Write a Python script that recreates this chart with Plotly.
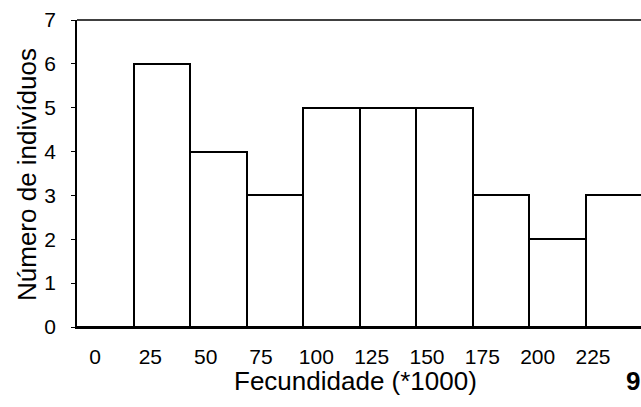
import plotly.graph_objects as go

# Data
bin_labels = [0, 25, 50, 75, 100, 125, 150, 175, 200, 225]
counts = [0, 6, 4, 3, 5, 5, 5, 3, 2, 3]
y_ticks = [0, 1, 2, 3, 4, 5, 6, 7]
x_title = "Fecundidade (*1000)"
y_title = "Número de indivíduos"

FONT = "Liberation Sans, Arial, sans-serif"
W, H = 641, 407
L, R, T, B = 77, 0, 20, 80
pw = W - L - R
ph = H - T - B

fig = go.Figure()
fig.add_trace(go.Bar(
    x=list(range(len(counts))),
    y=counts,
    width=1.0,
    marker=dict(color="white", line=dict(color="black", width=2)),
    showlegend=False,
    hoverinfo="skip",
))
# invisible trace to carry the tick-label axis
fig.add_trace(go.Scatter(x=[bin_labels[0], bin_labels[-1]], y=[0, 0], xaxis="x2",
                         mode="markers", marker=dict(opacity=0), showlegend=False,
                         hoverinfo="skip"))

bar_px = 56.5
fig.update_layout(
    width=W, height=H,
    margin=dict(l=L, r=R, t=T, b=B, pad=0),
    paper_bgcolor="white", plot_bgcolor="white",
    font=dict(family=FONT, size=21, color="black"),
    bargap=0,
    xaxis=dict(range=[-0.5, -0.5 + pw / bar_px], showticklabels=False, ticks="",
               showgrid=False, zeroline=False, showline=True, linecolor="black",
               linewidth=1.5, mirror=False),
    xaxis2=dict(overlaying="x", side="bottom", anchor="y",
                range=[(77 - 95) / 2.2133, (641 - 95) / 2.2133],
                tickvals=bin_labels, ticktext=[str(v) for v in bin_labels],
                ticks="", showgrid=False, zeroline=False, showline=False,
                ticklabelstandoff=15, tickfont=dict(size=21)),
    yaxis=dict(range=[0, 7], tickvals=y_ticks, ticks="outside", ticklen=4,
               tickcolor="black", tickwidth=1, showgrid=False, zeroline=False,
               showline=True, linecolor="black", linewidth=1.5,
               ticklabelstandoff=11, tickfont=dict(size=21)),
    shapes=[dict(type="line", xref="paper", yref="paper", x0=0, x1=1, y0=1, y1=1,
                 line=dict(color="black", width=1.5))],
    annotations=[
        dict(text=y_title, xref="paper", yref="paper", x=(27 - L) / pw,
             y=(327 - 175) / ph, xanchor="center", yanchor="middle",
             textangle=-90, showarrow=False, font=dict(size=26)),
        dict(text=x_title, xref="paper", yref="paper", x=(355.5 - L) / pw,
             y=(327 - 381) / ph, xanchor="center", yanchor="middle",
             showarrow=False, font=dict(size=26)),
        dict(text="<b>9</b>", xref="paper", yref="paper", x=(624 - L) / pw,
             y=(327 - 381) / ph, xanchor="left", yanchor="middle",
             showarrow=False, font=dict(size=26)),
    ],
)

fig.write_html("out.html", config={"displayModeBar": False},
               post_script="document.body.style.margin='0';document.body.style.overflow='hidden';")
